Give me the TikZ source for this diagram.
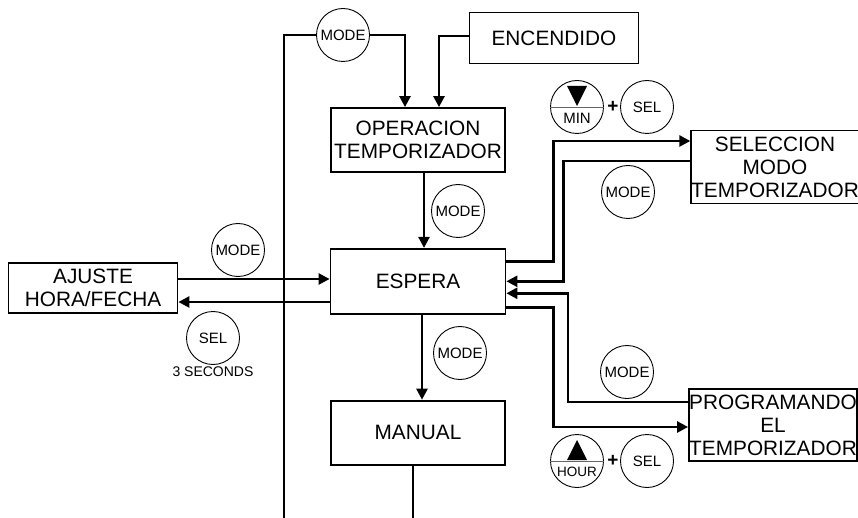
\documentclass[tikz,border=0pt]{standalone}
\usepackage{fontspec}
\setmainfont{Liberation Sans}
\usetikzlibrary{arrows.meta,positioning}

\begin{document}
\begin{tikzpicture}[
    x=1pt, y=-1pt,
    >={Triangle[length=11pt,width=11pt]},
    box/.style={draw, line width=1.8pt, inner sep=0pt, align=center,
                font=\fontsize{20.8}{23}\selectfont},
    btn/.style={draw, circle, line width=0.9pt, fill=white, inner sep=0pt,
                minimum size=53pt, font=\fontsize{15}{15}\selectfont},
    small/.style={inner sep=0pt, font=\fontsize{14}{14}\selectfont},
    plus/.style={inner sep=0pt, font=\fontsize{19}{19}\selectfont\bfseries},
    arr/.style={->, line width=2.5pt},
    lnk/.style={line width=2.5pt},
    back/.style={line width=1.6pt},
    sep/.style={line width=0.7pt, black!60},
  ]
  \useasboundingbox (0,0) rectangle (858,518);

  % states
  \node[box, minimum width=174pt, minimum height=64pt] (oper) at (418,140) {OPERACION\\TEMPORIZADOR};
  \node[box, minimum width=175pt, minimum height=65pt, below=75pt of oper] (espera) {ESPERA};
  \node[box, minimum width=174pt, minimum height=64pt, below=85pt of espera] (manual) {MANUAL};
  \node[box, minimum width=169pt, minimum height=51pt] (encendido) at (554,38) {ENCENDIDO};
  \node[box, minimum width=169pt, minimum height=50pt] (ajuste) at (93,288) {AJUSTE\\HORA/FECHA};
  \node[box, minimum width=165pt, minimum height=73pt] (selec) at (775,167) {SELECCION\\MODO\\TEMPORIZADOR};
  \node[box, minimum width=168pt, minimum height=72pt] (progr) at (773,425) {PROGRAMANDO\\EL\\TEMPORIZADOR};

  % keys
  \node[btn] (mtop) at (343,35) {MODE};
  \node[btn] (mode1) at (458,211) {MODE};
  \node[btn] (mode2) at (238,250) {MODE};
  \node[btn] (sel1) at (213,338) {SEL};
  \node[small] (secs) at (213,372) {3 SECONDS};
  \node[btn] (mode3) at (460,353) {MODE};
  \node[btn] (mode4) at (628,192) {MODE};
  \node[btn] (mode5) at (627,372) {MODE};

  \node[btn] (minb) at (577,107) {};
  \node[plus] (plus1) at (613,107) {+};
  \node[btn] (sel2) at (647,107) {SEL};
  \draw[sep] (minb.west) -- (minb.east);
  \fill ([shift={(-10,-21)}]minb.center) -- ([shift={(10,-21)}]minb.center)
        -- ([shift={(0,-1)}]minb.center) -- cycle;
  \node[small, font=\fontsize{15}{15}\selectfont] (mint) at ([yshift=-11pt]minb.center) {MIN};

  \node[btn] (hourb) at (577,461) {};
  \node[plus] (plus2) at (613,461) {+};
  \node[btn] (sel3) at (647,461) {SEL};
  \draw[sep] (hourb.west) -- (hourb.east);
  \fill ([shift={(-10,-1)}]hourb.center) -- ([shift={(10,-1)}]hourb.center)
        -- ([shift={(0,-21)}]hourb.center) -- cycle;
  \node[small, font=\fontsize{13.5}{13.5}\selectfont] (hourt) at ([yshift=-11pt]hourb.center) {HOUR};

  % loop back from manual
  \coordinate (cutA) at (284,518);
  \coordinate (cutB) at (413,518);
  \draw[back] (cutA) |- (mtop.west);
  \draw[arr] (mtop.east) -| ([xshift=-13pt]oper.north);
  \draw[arr] ([yshift=2pt]encendido.west) -| ([xshift=21pt]oper.north);
  \draw[lnk] ([xshift=-5pt]manual.south) -- (cutB);

  % main column
  \draw[arr] ([xshift=6pt]oper.south) -- ([xshift=6pt]oper.south |- espera.north);
  \draw[arr] ([xshift=4pt]espera.south) -- ([xshift=4pt]espera.south |- manual.north);

  % left
  \draw[arr] ([yshift=9pt]ajuste.east) -- ([yshift=9pt]ajuste.east -| espera.west);
  \draw[arr] ([yshift=-14pt]ajuste.east -| espera.west) -- ([yshift=-14pt]ajuste.east);

  % right
  \draw[arr] ([yshift=20pt]espera.east) -- ++(47,0) |- ([yshift=26pt]selec.west);
  \draw[arr] ([yshift=6pt]selec.west) -- ++(-127,0) |- (espera.east);
  \draw[arr] ([yshift=23pt]progr.west) -- ++(-120,0) |- ([yshift=-12pt]espera.east);
  \draw[arr] ([yshift=-26pt]espera.east) -- ++(47,0) |- ([yshift=-2pt]progr.west);
\end{tikzpicture}
\end{document}
